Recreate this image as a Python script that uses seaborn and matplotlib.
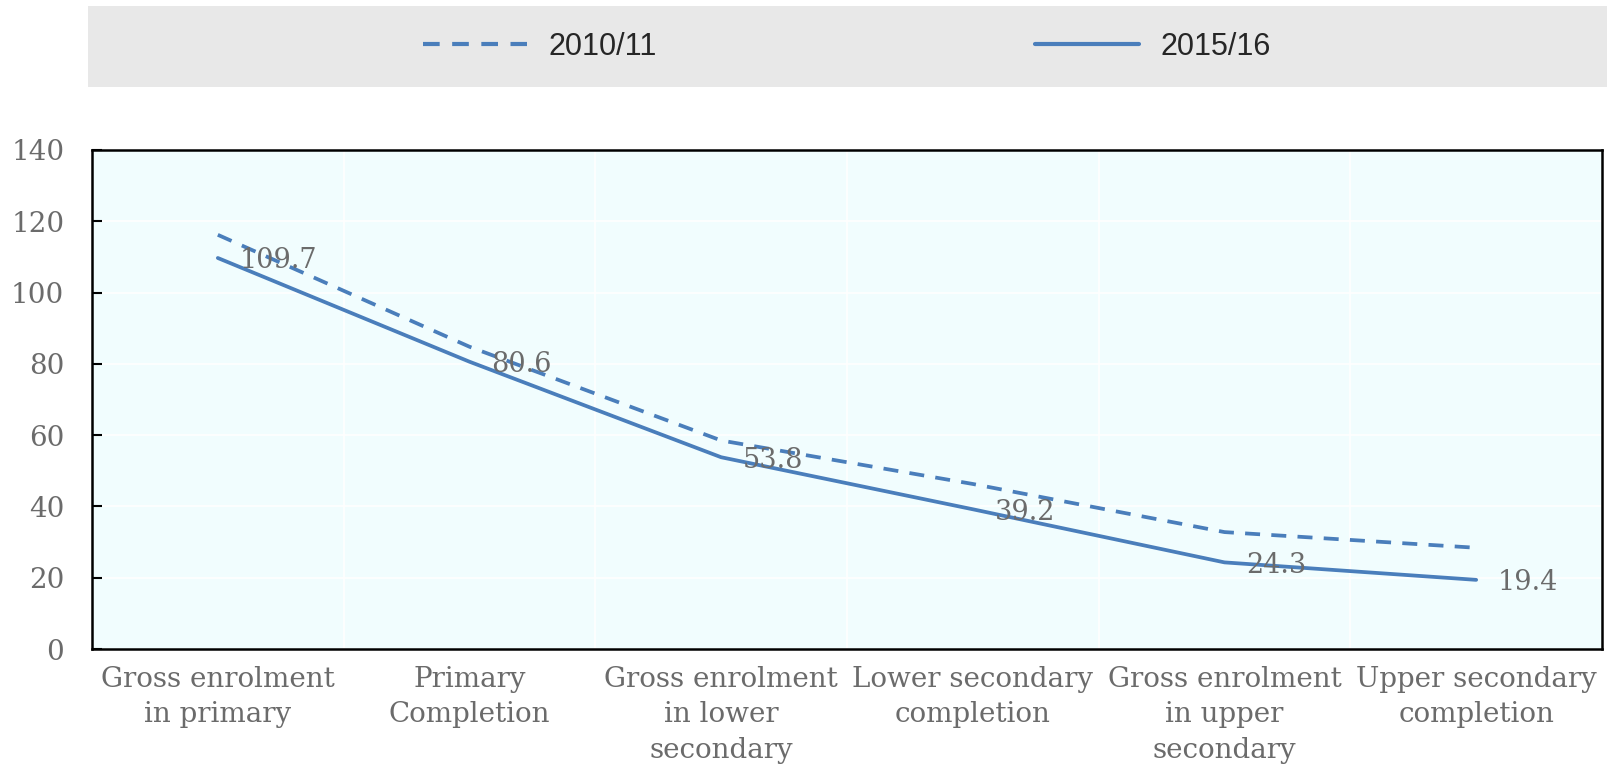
import matplotlib
matplotlib.use("Agg")
import matplotlib.pyplot as plt
from matplotlib.patches import Rectangle
import numpy as np
import pandas as pd
import seaborn as sns

categories = [
    "Gross enrolment\nin primary",
    "Primary\nCompletion",
    "Gross enrolment\nin lower\nsecondary",
    "Lower secondary\ncompletion",
    "Gross enrolment\nin upper\nsecondary",
    "Upper secondary\ncompletion",
]
years = ["2010/11", "2015/16"]
values_2010 = [116.2, 84.8, 58.5, 46.3, 32.8, 28.4]
values_2015 = [109.7, 80.6, 53.8, 39.2, 24.3, 19.4]
y_ticks = [0, 20, 40, 60, 80, 100, 120, 140]

LINE = "#4a7ebb"
GREY_TXT = "#6b6b6b"
SERIF = ["DejaVu Serif"]

df = pd.DataFrame({
    "pos": list(range(len(categories))) * 2,
    "value": values_2010 + values_2015,
    "year": [years[0]] * len(categories) + [years[1]] * len(categories),
})

sns.set_theme(style="white")
plt.rcParams["font.family"] = SERIF

fig = plt.figure(figsize=(16.07, 7.69), dpi=100)
ax = fig.add_axes([92 / 1607, 1 - 649 / 769, 1510 / 1607, 499 / 769])
ax.set_facecolor("#f1fdfe")

sns.lineplot(
    data=df, x="pos", y="value", style="year", style_order=years,
    dashes={years[0]: (4, 3), years[1]: ""}, color=LINE, linewidth=2.7,
    markers=False, ax=ax,
)

# data labels for the latest year
for i, v in enumerate(values_2015):
    ax.annotate(f"{v:.1f}", (i, v), xytext=(22, -3), textcoords="offset pixels",
                ha="left", va="center", fontsize=19.5, color=GREY_TXT)

ax.set_xlim(-0.5, len(categories) - 0.5)
ax.set_ylim(0, 140)
ax.set_yticks(y_ticks)
ax.set_xticks(np.arange(0.5, len(categories) - 0.5, 1))
ax.set_xticklabels([])
ax.set_xticks(range(len(categories)), minor=True)
ax.set_xticklabels(categories, minor=True, fontsize=20, color=GREY_TXT)
for t in ax.get_xticklabels(minor=True):
    t.set_linespacing(1.42)
ax.tick_params(axis="x", which="minor", length=0, pad=12)
ax.tick_params(axis="x", which="major", direction="in", length=10, width=1.5, color="black")
ax.tick_params(axis="y", direction="in", length=7, width=1.5, color="black",
               labelsize=20, labelcolor=GREY_TXT, pad=20, left=True)
ax.grid(True, which="major", color="white", linewidth=1.2)
ax.set_xlabel("")
ax.set_ylabel("")
for s in ax.spines.values():
    s.set_visible(True)
    s.set_color("black")
    s.set_linewidth(1.8)

handles, labels = ax.get_legend_handles_labels()
ax.get_legend().remove()

fig.patches.append(Rectangle((88 / 1607, 1 - 87 / 769), 1519 / 1607, 81 / 769,
                             transform=fig.transFigure, facecolor="#e8e8e8",
                             edgecolor="none", zorder=0))
leg = fig.legend(handles, labels, loc="center", bbox_to_anchor=(0.527, 1 - 47 / 769),
                 ncol=2, frameon=False, handlelength=3.4, handletextpad=0.7,
                 columnspacing=12.4,
                 prop={"family": ["Liberation Sans Narrow", "Liberation Sans"], "size": 22})
for h in leg.legend_handles:
    h.set_color(LINE)
    h.set_linewidth(3)

fig.savefig("out.png", dpi=100)
